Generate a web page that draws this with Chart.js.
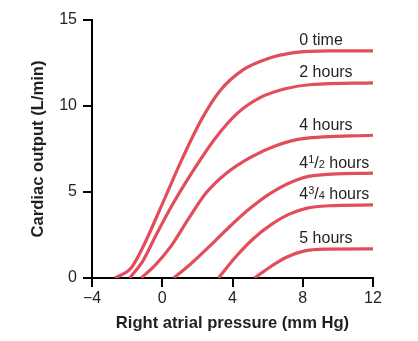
<!DOCTYPE html>
<html>
<head>
<meta charset="utf-8">
<script src="https://cdn.jsdelivr.net/npm/chart.js@4/dist/chart.umd.min.js"></script>
<style>
  html, body { margin: 0; padding: 0; background: #fff; }
  #wrap { width: 418px; height: 341px; }
</style>
</head>
<body>
<div id="wrap"><canvas id="co-chart" width="418" height="341"></canvas></div>
<script>
// cardiac output curves after haemorrhage
let curveLabels = ["0 time", "2 hours", "4 hours", "4 1/2 hours", "4 3/4 hours", "5 hours"];

let pressure0h = [-2.7, -1.8, -1.1, 0, 1.1, 2.2, 3.3, 4.6, 6.0, 7.5, 9.5, 12];
let output0h   = [0, 0.55, 1.8, 4.3, 6.85, 9.15, 10.9, 12.1, 12.75, 13.1, 13.2, 13.2];

let pressure2h = [-1.85, -1.1, -0.3, 0.6, 1.8, 3.0, 4.3, 5.6, 7.0, 8.5, 12];
let output2h   = [0, 1.0, 2.6, 4.3, 6.3, 8.1, 9.6, 10.5, 11.0, 11.25, 11.35];

let pressure4h = [-1.2, -0.4, 0.5, 1.5, 2.5, 3.6, 5.0, 6.5, 8.0, 12];
let output4h   = [0, 0.75, 1.85, 3.45, 4.95, 6.05, 7.0, 7.7, 8.1, 8.3];

let pressure4h30 = [0.65, 1.6, 2.7, 3.8, 5.0, 6.2, 7.4, 8.6, 12];
let output4h30   = [0, 0.8, 1.85, 2.95, 4.05, 4.95, 5.6, 5.95, 6.1];

let pressure4h45 = [3.2, 4.2, 5.2, 6.2, 7.2, 8.2, 9.5, 12];
let output4h45   = [0, 1.25, 2.3, 3.1, 3.7, 4.05, 4.2, 4.25];

let pressure5h = [5.25, 6.2, 7.1, 8.0, 9.2, 12];
let output5h   = [0, 0.68, 1.22, 1.55, 1.68, 1.69];

let xTicks = [-4, 0, 4, 8, 12];
let yTicks = [0, 5, 10, 15];

let pressures = [pressure0h, pressure2h, pressure4h, pressure4h30, pressure4h45, pressure5h];
let outputs = [output0h, output2h, output4h, output4h30, output4h45, output5h];

const lineColor = "#e24d5c";
const textColor = "#231f20";
const family = "'Liberation Sans', Arial, Helvetica, sans-serif";

let datasets = [];
pressures.forEach((xs, i) => {
    let pts = [];
    xs.forEach((x, j) => pts.push({x: x, y: outputs[i][j]}));
    datasets.push({
        label: curveLabels[i],
        data: pts,
        borderColor: lineColor,
        borderWidth: 3.2,
        pointRadius: 0,
        fill: false,
        cubicInterpolationMode: "monotone"
    });
});

// writes the curve names above each plateau, with the small fractions
const curveNames = {
    id: "curveNames",
    afterDatasetsDraw(chart) {
        const ctx = chart.ctx;
        const xs = chart.scales.x;
        const ys = chart.scales.y;
        const big = "16px " + family;
        const small = "11px " + family;
        ctx.save();
        ctx.fillStyle = textColor;
        ctx.textBaseline = "alphabetic";
        ctx.textAlign = "left";
        curveLabels.forEach((name, i) => {
            let last = outputs[i][outputs[i].length - 1];
            let x = xs.getPixelForValue(7.8);
            let y = ys.getPixelForValue(last) - 5.5;
            let parts = name.split(" ");
            if (parts.length === 3) {
                // "4 1/2 hours" -> 4, raised 1, slash, small 2, hours
                let frac = parts[1].split("/");
                ctx.font = big;
                ctx.fillText(parts[0], x, y);
                x += ctx.measureText(parts[0]).width;
                ctx.font = small;
                ctx.fillText(frac[0], x, y - 5);
                x += ctx.measureText(frac[0]).width;
                ctx.font = big;
                ctx.fillText("/", x, y);
                x += ctx.measureText("/").width;
                ctx.font = small;
                ctx.fillText(frac[1], x, y);
                x += ctx.measureText(frac[1]).width;
                ctx.font = big;
                ctx.fillText(" " + parts[2], x, y);
            } else {
                ctx.font = big;
                ctx.fillText(name, x, y);
            }
        });
        ctx.restore();
    }
};

const ctx = document.getElementById("co-chart").getContext("2d");

let myChart = new Chart(ctx, {
    type: "line",
    data: { datasets: datasets },
    plugins: [curveNames],
    options: {
        responsive: false,
        animation: false,
        layout: { padding: { left: 0, top: 20, right: 45, bottom: 0 } },
        plugins: {
            legend: { display: false },
            tooltip: { enabled: false }
        },
        scales: {
            x: {
                type: "linear",
                min: -4,
                max: 12,
                z: 1,
                afterFit: scale => { scale.height = 63; },
                afterBuildTicks: scale => { scale.ticks = xTicks.map(v => ({value: v})); },
                border: { display: true, color: "#000", width: 2 },
                grid: { drawOnChartArea: false, drawTicks: true, tickLength: 9, color: "#000", lineWidth: 2 },
                ticks: {
                    padding: 2,
                    color: textColor,
                    font: { family: family, size: 16 },
                    callback: v => v < 0 ? "\u2212" + Math.abs(v) : String(v)
                },
                title: {
                    display: true,
                    text: "Right atrial pressure (mm Hg)",
                    color: textColor,
                    font: { family: family, size: 16.6, weight: "bold" },
                    padding: { top: 0, bottom: 8 }
                }
            },
            y: {
                min: 0,
                max: 15,
                afterFit: scale => { scale.width = 92; },
                afterBuildTicks: scale => { scale.ticks = yTicks.map(v => ({value: v})); },
                border: { display: true, color: "#000", width: 2 },
                grid: { drawOnChartArea: false, drawTicks: true, tickLength: 9, color: "#000", lineWidth: 2 },
                ticks: {
                    padding: 6,
                    color: textColor,
                    font: { family: family, size: 16 }
                },
                title: {
                    display: true,
                    text: "Cardiac output (L/min)",
                    color: textColor,
                    font: { family: family, size: 16.6, weight: "bold" },
                    padding: { top: 28, bottom: 0 }
                }
            }
        }
    }
});
</script>
</body>
</html>
